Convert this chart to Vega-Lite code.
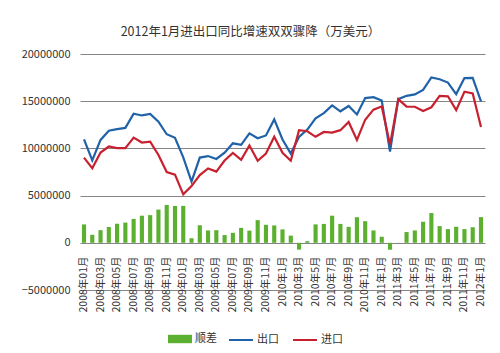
{
  "$schema": "https://vega.github.io/schema/vega-lite/v6.json",
  "width": 405,
  "height": 236,
  "autosize": {"type": "none"},
  "padding": {"left": 80, "top": 54, "right": 15, "bottom": 63},
  "background": "white",
  "title": {
    "text": "2012年1月进出口同比增速双双骤降（万美元）",
    "fontSize": 12.5,
    "font": "Noto Sans CJK SC",
    "fontWeight": "normal",
    "color": "#333333",
    "anchor": "middle",
    "dx": -32,
    "offset": 10
  },
  "config": {
    "view": {"stroke": null},
    "font": "Noto Sans CJK SC"
  },
  "data": {
    "values": [
      {"m": "2008年01月", "出口": 10966000, "进口": 9018000, "bal": 1948000},
      {"m": "2008年02月", "出口": 8737000, "进口": 7887000, "bal": 850000},
      {"m": "2008年03月", "出口": 10896000, "进口": 9558000, "bal": 1338000},
      {"m": "2008年04月", "出口": 11870000, "进口": 10200000, "bal": 1670000},
      {"m": "2008年05月", "出口": 12050000, "进口": 10030000, "bal": 2020000},
      {"m": "2008年06月", "出口": 12170000, "进口": 10030000, "bal": 2140000},
      {"m": "2008年07月", "出口": 13670000, "进口": 11140000, "bal": 2530000},
      {"m": "2008年08月", "出口": 13490000, "进口": 10620000, "bal": 2870000},
      {"m": "2008年09月", "出口": 13640000, "进口": 10710000, "bal": 2930000},
      {"m": "2008年10月", "出口": 12830000, "进口": 9310000, "bal": 3520000},
      {"m": "2008年11月", "出口": 11500000, "进口": 7490000, "bal": 4010000},
      {"m": "2008年12月", "出口": 11120000, "进口": 7220000, "bal": 3900000},
      {"m": "2009年01月", "出口": 9045000, "进口": 5134000, "bal": 3910000},
      {"m": "2009年02月", "出口": 6490000, "进口": 6010000, "bal": 480000},
      {"m": "2009年03月", "出口": 9030000, "进口": 7170000, "bal": 1860000},
      {"m": "2009年04月", "出口": 9190000, "进口": 7880000, "bal": 1310000},
      {"m": "2009年05月", "出口": 8880000, "进口": 7540000, "bal": 1340000},
      {"m": "2009年06月", "出口": 9540000, "进口": 8720000, "bal": 820000},
      {"m": "2009年07月", "出口": 10540000, "进口": 9520000, "bal": 1060000},
      {"m": "2009年08月", "出口": 10370000, "进口": 8790000, "bal": 1580000},
      {"m": "2009年09月", "出口": 11590000, "进口": 10300000, "bal": 1290000},
      {"m": "2009年10月", "出口": 11080000, "进口": 8680000, "bal": 2400000},
      {"m": "2009年11月", "出口": 11370000, "进口": 9460000, "bal": 1910000},
      {"m": "2009年12月", "出口": 13070000, "进口": 11230000, "bal": 1840000},
      {"m": "2010年1月", "出口": 10950000, "进口": 9530000, "bal": 1420000},
      {"m": "2010年2月", "出口": 9450000, "进口": 8690000, "bal": 760000},
      {"m": "2010年3月", "出口": 11210000, "进口": 11930000, "bal": -720000},
      {"m": "2010年4月", "出口": 11990000, "进口": 11820000, "bal": 170000},
      {"m": "2010年5月", "出口": 13180000, "进口": 11230000, "bal": 1950000},
      {"m": "2010年6月", "出口": 13740000, "进口": 11740000, "bal": 2000000},
      {"m": "2010年7月", "出口": 14550000, "进口": 11680000, "bal": 2870000},
      {"m": "2010年8月", "出口": 13930000, "进口": 11930000, "bal": 2000000},
      {"m": "2010年9月", "出口": 14490000, "进口": 12800000, "bal": 1690000},
      {"m": "2010年10月", "出口": 13600000, "进口": 10890000, "bal": 2710000},
      {"m": "2010年11月", "出口": 15330000, "进口": 13040000, "bal": 2290000},
      {"m": "2010年12月", "出口": 15420000, "进口": 14110000, "bal": 1310000},
      {"m": "2011年1月", "出口": 15070000, "进口": 14430000, "bal": 640000},
      {"m": "2011年2月", "出口": 9670000, "进口": 10400000, "bal": -730000},
      {"m": "2011年3月", "出口": 15220000, "进口": 15210000, "bal": 10000},
      {"m": "2011年4月", "出口": 15570000, "进口": 14430000, "bal": 1140000},
      {"m": "2011年5月", "出口": 15720000, "进口": 14410000, "bal": 1310000},
      {"m": "2011年6月", "出口": 16200000, "进口": 13970000, "bal": 2230000},
      {"m": "2011年7月", "出口": 17510000, "进口": 14360000, "bal": 3150000},
      {"m": "2011年8月", "出口": 17330000, "进口": 15560000, "bal": 1770000},
      {"m": "2011年9月", "出口": 16970000, "进口": 15520000, "bal": 1450000},
      {"m": "2011年10月", "出口": 15750000, "进口": 14050000, "bal": 1700000},
      {"m": "2011年11月", "出口": 17450000, "进口": 16000000, "bal": 1450000},
      {"m": "2011年12月", "出口": 17470000, "进口": 15820000, "bal": 1650000},
      {"m": "2012年1月", "出口": 14990000, "进口": 12270000, "bal": 2720000}
    ]
  },
  "encoding": {
    "x": {
      "field": "m",
      "type": "ordinal",
      "sort": null,
      "scale": {"paddingInner": 0.5, "paddingOuter": 0.235},
      "axis": {
        "title": null,
        "offset": -47,
        "domain": false,
        "ticks": false,
        "grid": false,
        "labelAngle": -90,
        "labelAlign": "right",
        "labelBaseline": "middle",
        "labelPadding": 13,
        "labelFontSize": 10.5,
        "labelColor": "#333333",
        "labelFont": "Noto Sans CJK SC",
        "values": ["2008年01月", "2008年03月", "2008年05月", "2008年07月", "2008年09月", "2008年11月", "2009年01月", "2009年03月", "2009年05月", "2009年07月", "2009年09月", "2009年11月", "2010年1月", "2010年3月", "2010年5月", "2010年7月", "2010年9月", "2010年11月", "2011年1月", "2011年3月", "2011年5月", "2011年7月", "2011年9月", "2011年11月", "2012年1月"]
      }
    }
  },
  "layer": [
    {
      "mark": {"type": "bar"},
      "encoding": {
        "y": {
          "field": "bal",
          "type": "quantitative",
          "scale": {"domain": [-5000000, 20000000], "nice": false, "zero": false},
          "axis": {
            "title": null,
            "values": [-5000000, 0, 5000000, 10000000, 15000000, 20000000],
            "format": "d",
            "domain": false,
            "ticks": false,
            "labelPadding": 10,
            "labelFontSize": 11,
            "labelColor": "#333333",
            "labelFont": "Noto Sans CJK SC",
            "grid": true,
            "gridColor": "#858585",
            "gridWidth": 1
          }
        },
        "color": {
          "datum": "顺差",
          "type": "nominal",
          "scale": {"domain": ["顺差"], "range": ["#5bb12f"]},
          "legend": {
            "title": null,
            "orient": "none",
            "legendX": 88,
            "legendY": 273,
            "symbolType": "M-1,-0.35L1,-0.35L1,0.35L-1,0.35Z",
            "symbolSize": 576,
            "symbolStrokeWidth": 0,
            "labelFontSize": 11,
            "labelColor": "#333333",
            "labelOffset": 3,
            "labelFont": "Noto Sans CJK SC"
          }
        }
      }
    },
    {
      "transform": [{"fold": ["出口", "进口"], "as": ["series", "value"]}],
      "mark": {"type": "line", "strokeWidth": 2.2},
      "encoding": {
        "y": {"field": "value", "type": "quantitative"},
        "color": {
          "field": "series",
          "type": "nominal",
          "scale": {"domain": ["出口", "进口"], "range": ["#1f62a8", "#c8202f"]},
          "legend": {
            "title": null,
            "orient": "none",
            "direction": "horizontal",
            "legendX": 148,
            "legendY": 273,
            "symbolType": "stroke",
            "symbolSize": 576,
            "symbolStrokeWidth": 2,
            "columnPadding": 10,
            "labelFontSize": 11,
            "labelColor": "#333333",
            "labelOffset": 3,
            "labelFont": "Noto Sans CJK SC"
          }
        }
      }
    }
  ],
  "resolve": {"scale": {"color": "independent"}}
}
